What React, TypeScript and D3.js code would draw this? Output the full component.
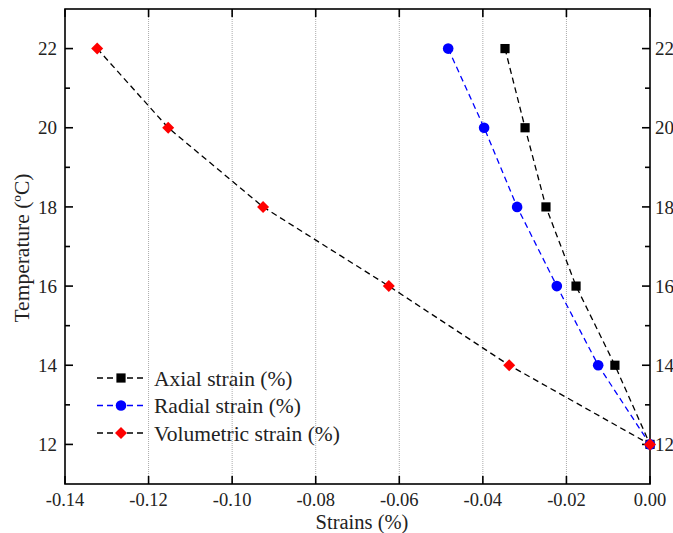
import React from "react";
import * as d3 from "d3";

const temps = [22, 20, 18, 16, 14, 12];
const axial = [-0.0347, -0.0299, -0.0249, -0.0177, -0.0084, 0];
const radial = [-0.0483, -0.0397, -0.0318, -0.0223, -0.0124, 0];
const volumetric = [-0.1323, -0.1153, -0.0926, -0.0625, -0.0337, 0];
const xTicks = [-0.14, -0.12, -0.1, -0.08, -0.06, -0.04, -0.02, 0];
const yTicks = [12, 14, 16, 18, 20, 22];
const yMinor = [13, 15, 17, 19, 21];
const legendLabels = ["Axial strain (%)", "Radial strain (%)", "Volumetric strain (%)"];

const W = 673, H = 533;
const L = 65, R = 650, T = 9, B = 484;
const FONT = "'Times New Roman', Times, 'Liberation Serif', Tinos, 'DejaVu Serif', serif";

export default function App() {
  const x = d3.scaleLinear().domain([-0.14, 0]).range([L, R]);
  const y = d3.scaleLinear().domain([11, 23]).range([B, T]);
  const line = d3.line<number>().x((d) => x(d[0])).y((d) => y(d[1]));
  const pts = (vals: number[]) => vals.map((v, i) => [v, temps[i]] as [number, number]);

  const series = [
    { vals: axial, color: "#000", marker: "square", mcolor: "#000" },
    { vals: radial, color: "#0000ff", marker: "circle", mcolor: "#0000ff" },
    { vals: volumetric, color: "#000", marker: "diamond", mcolor: "#ff0000" },
  ];

  const marker = (type: string, cx: number, cy: number, color: string, key: any) => {
    if (type === "square") return <rect key={key} x={cx - 4.6} y={cy - 4.6} width={9.2} height={9.2} fill={color} />;
    if (type === "circle") return <circle key={key} cx={cx} cy={cy} r={5.3} fill={color} />;
    const s = 6;
    return <path key={key} d={`M${cx},${cy - s}L${cx + s},${cy}L${cx},${cy + s}L${cx - s},${cy}Z`} fill={color} />;
  };

  const fmtX = (v: number) => (v === 0 ? "0.00" : d3.format(".2f")(v).replace("−", "-"));
  const ts = { fontFamily: FONT };

  return (
    <svg width={W} height={H} style={{ position: "absolute", left: 0, top: 0, background: "#fff" }}>
      <rect x={0} y={0} width={W} height={H} fill="#fff" />
      {xTicks.slice(1, -1).map((t) => (
        <line key={"g" + t} x1={x(t)} x2={x(t)} y1={T} y2={B} stroke="#aaa" strokeWidth={1} strokeDasharray="1,1" />
      ))}
      <rect x={L} y={T} width={R - L} height={B - T} fill="none" stroke="#000" strokeWidth={1.6} />
      {xTicks.map((t) => (
        <g key={"xt" + t}>
          <line x1={x(t)} x2={x(t)} y1={B} y2={B - 8} stroke="#000" strokeWidth={1.6} />
          <line x1={x(t)} x2={x(t)} y1={T} y2={T + 8} stroke="#000" strokeWidth={1.6} />
          <text x={x(t)} y={B + 22} textAnchor="middle" fontSize={18.5} fill="#222" style={ts}>{fmtX(t)}</text>
        </g>
      ))}
      {yTicks.map((t) => (
        <g key={"yt" + t}>
          <line x1={L} x2={L + 8} y1={y(t)} y2={y(t)} stroke="#000" strokeWidth={1.6} />
          <line x1={R} x2={R - 8} y1={y(t)} y2={y(t)} stroke="#000" strokeWidth={1.6} />
          <text x={L - 8} y={y(t)} dy="0.35em" textAnchor="end" fontSize={19} fill="#222" style={ts}>{t}</text>
          <text x={R + 5} y={y(t)} dy="0.35em" textAnchor="start" fontSize={19} fill="#222" style={ts}>{t}</text>
        </g>
      ))}
      {yMinor.map((t) => (
        <g key={"ym" + t}>
          <line x1={L} x2={L + 5} y1={y(t)} y2={y(t)} stroke="#000" strokeWidth={1.6} />
          <line x1={R} x2={R - 5} y1={y(t)} y2={y(t)} stroke="#000" strokeWidth={1.6} />
        </g>
      ))}
      <text x={362} y={529} textAnchor="middle" fontSize={20.5} fill="#222" style={ts}>Strains (%)</text>
      <text transform={`translate(29,248) rotate(-90)`} textAnchor="middle" fontSize={21.5} fill="#222" style={ts}>Temperature (ºC)</text>
      {series.map((s, i) => (
        <path key={"l" + i} d={line(pts(s.vals)) || ""} fill="none" stroke={s.color} strokeWidth={1.3} strokeDasharray="6,4" />
      ))}
      {series.map((s, i) => (
        <g key={"m" + i}>{pts(s.vals).map((p, j) => marker(s.marker, x(p[0]), y(p[1]), s.mcolor, j))}</g>
      ))}
      {series.map((s, i) => {
        const ly = 378 + i * 27.5;
        return (
          <g key={"lg" + i}>
            <line x1={97} x2={146} y1={ly} y2={ly} stroke={s.color} strokeWidth={1.3} strokeDasharray="6,4" />
            {marker(s.marker, 121, ly, s.mcolor, "m")}
            <text x={154} y={ly} dy="0.35em" fontSize={21.5} fill="#222" style={ts}>{legendLabels[i]}</text>
          </g>
        );
      })}
    </svg>
  );
}
